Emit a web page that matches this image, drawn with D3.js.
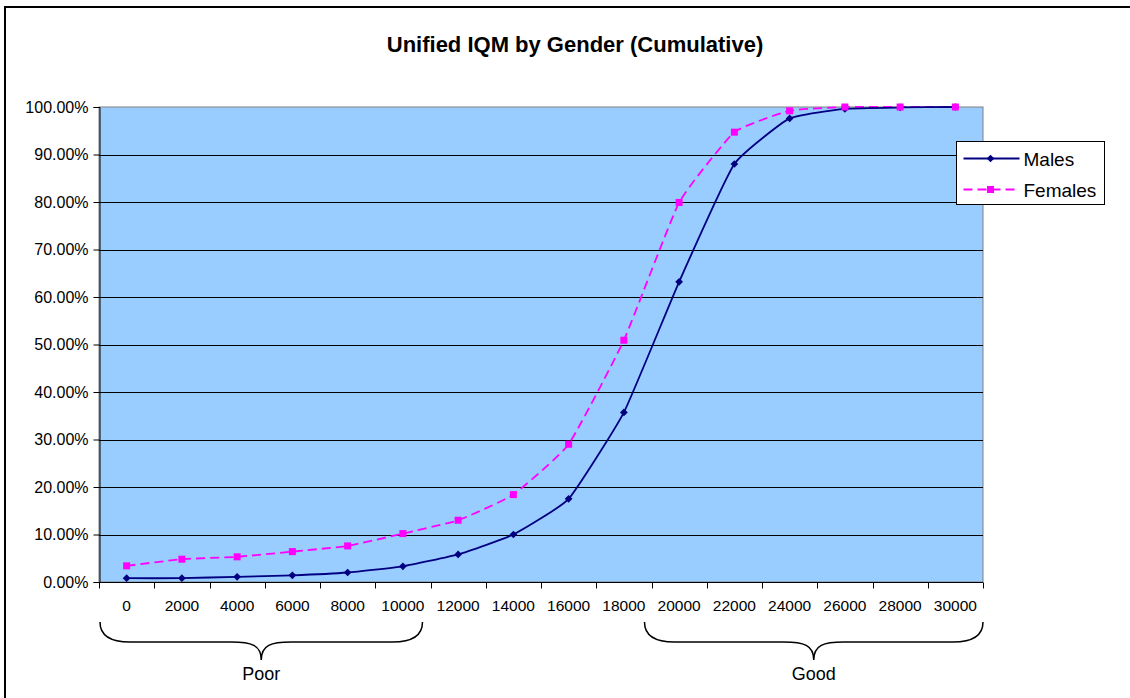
<!DOCTYPE html>
<html lang="en">
<head>
    <meta charset="UTF-8">
    <title>Unified IQM by Gender (Cumulative)</title>
    <script src="https://d3js.org/d3.v7.min.js"></script>
    <style>
        body { margin: 0; background: #fff; }
        svg { display: block; font-family: Arial, "Liberation Sans", sans-serif; }
    </style>
</head>
<body>
    <svg id="chart" width="1130" height="698"></svg>
    <script>
        // data
        const categories = ["0", "2000", "4000", "6000", "8000", "10000", "12000", "14000",
                            "16000", "18000", "20000", "22000", "24000", "26000", "28000", "30000"];
        const males   = [0.8, 0.8, 1.1, 1.4, 2.0, 3.3, 5.8, 10.0, 17.5, 35.7, 63.2, 88.0, 97.6, 99.6, 99.9, 100];
        const females = [3.4, 4.8, 5.3, 6.4, 7.6, 10.2, 13.0, 18.4, 29.0, 50.9, 79.9, 94.7, 99.2, 100, 100, 100];
        const yTicks = [0, 10, 20, 30, 40, 50, 60, 70, 80, 90, 100];
        const brackets = [
            { label: "Poor", from: "0", to: "10000" },
            { label: "Good", from: "20000", to: "30000" }
        ];

        const svg = d3.select("#chart");
        const plotLeft = 99, plotRight = 983, plotTop = 107, plotBottom = 582;

        // outer chart frame (cropped at right and bottom)
        svg.append("path")
            .attr("d", "M5,700 L5,7 L1132,7")
            .attr("fill", "none")
            .attr("stroke", "#000")
            .attr("stroke-width", 2);

        svg.append("text")
            .attr("x", 575).attr("y", 52)
            .attr("text-anchor", "middle")
            .attr("font-size", 22).attr("font-weight", "bold")
            .text("Unified IQM by Gender (Cumulative)");

        const x = d3.scaleBand().domain(categories).range([plotLeft, plotRight]);
        const y = d3.scaleLinear().domain([0, 100]).range([plotBottom, plotTop]);

        svg.append("rect")
            .attr("x", plotLeft).attr("y", plotTop)
            .attr("width", plotRight - plotLeft).attr("height", plotBottom - plotTop)
            .attr("fill", "#99ccff")
            .attr("stroke", "#808080");

        // gridlines
        svg.append("g").selectAll("line")
            .data(yTicks.filter(d => d > 0 && d < 100))
            .join("line")
            .attr("x1", plotLeft).attr("x2", plotRight)
            .attr("y1", d => Math.round(y(d)) + 0.5).attr("y2", d => Math.round(y(d)) + 0.5)
            .attr("stroke", "#000");

        const yAxis = svg.append("g")
            .attr("transform", `translate(${plotLeft + 0.5},0)`)
            .call(d3.axisLeft(y).tickValues(yTicks).tickSize(6).tickPadding(5)
                .tickFormat(d => d.toFixed(2) + "%"));
        yAxis.selectAll("text").attr("font-size", 16).attr("fill", "#000").attr("font-family", "Arial, 'Liberation Sans', sans-serif");
        yAxis.selectAll("line, path").attr("stroke", "#000");

        const xAxis = svg.append("g")
            .attr("transform", `translate(0,${plotBottom + 0.5})`)
            .call(d3.axisBottom(x).tickSize(0).tickPadding(17));
        xAxis.selectAll("text").attr("font-size", 15.5).attr("fill", "#000").attr("font-family", "Arial, 'Liberation Sans', sans-serif");
        xAxis.select("path").attr("stroke", "#000").attr("d", `M${plotLeft},0H${plotRight}`);
        // category boundary ticks
        xAxis.append("g").selectAll("line")
            .data(categories.concat([null]))
            .join("line")
            .attr("x1", (d, i) => Math.round(plotLeft + i * x.step()) + 0.5)
            .attr("x2", (d, i) => Math.round(plotLeft + i * x.step()) + 0.5)
            .attr("y1", 0).attr("y2", 6)
            .attr("stroke", "#000");

        const line = d3.line()
            .x((d, i) => x(categories[i]) + x.bandwidth() / 2)
            .y(d => y(d))
            .curve(d3.curveCardinal.tension(0.6));

        svg.append("path")
            .datum(females)
            .attr("d", line)
            .attr("fill", "none")
            .attr("stroke", "#ff00ff")
            .attr("stroke-width", 1.8)
            .attr("stroke-dasharray", "9,5");

        svg.append("path")
            .datum(males)
            .attr("d", line)
            .attr("fill", "none")
            .attr("stroke", "#000080")
            .attr("stroke-width", 1.8);

        const diamond = d3.symbol().type(d3.symbolSquare).size(30);
        svg.append("g").selectAll("path")
            .data(males)
            .join("path")
            .attr("transform", (d, i) => `translate(${x(categories[i]) + x.bandwidth() / 2},${y(d)}) rotate(45)`)
            .attr("d", diamond)
            .attr("fill", "#000080");

        svg.append("g").selectAll("rect")
            .data(females)
            .join("rect")
            .attr("x", (d, i) => x(categories[i]) + x.bandwidth() / 2 - 3.5)
            .attr("y", d => y(d) - 3.5)
            .attr("width", 7).attr("height", 7)
            .attr("fill", "#ff00ff");

        // legend
        const legend = svg.append("g").attr("transform", "translate(956.5,141.5)");
        legend.append("rect")
            .attr("width", 148).attr("height", 63)
            .attr("fill", "#fff").attr("stroke", "#000");
        const items = [
            { name: "Males", color: "#000080", dash: null, marker: "diamond" },
            { name: "Females", color: "#ff00ff", dash: "9,5", marker: "square" }
        ];
        items.forEach((it, i) => {
            const cy = 17 + i * 31;
            legend.append("line")
                .attr("x1", 7).attr("x2", 63).attr("y1", cy).attr("y2", cy)
                .attr("stroke", it.color).attr("stroke-width", 1.8)
                .attr("stroke-dasharray", it.dash);
            if (it.marker === "diamond") {
                legend.append("path")
                    .attr("transform", `translate(34,${cy}) rotate(45)`)
                    .attr("d", diamond).attr("fill", it.color);
            } else {
                legend.append("rect")
                    .attr("x", 30.5).attr("y", cy - 3.5).attr("width", 7).attr("height", 7)
                    .attr("fill", it.color);
            }
            legend.append("text")
                .attr("x", 67).attr("y", cy + 7)
                .attr("font-size", 19)
                .text(it.name);
        });

        // curly braces under the axis
        const braceTop = 622, braceMid = 642, braceTip = 660;
        brackets.forEach((b, k) => {
            const x0 = x(b.from) + (k === 0 ? 1 : -7), x1 = x(b.to) + x.bandwidth() - (k === 0 ? 8 : 0);
            const xm = (x0 + x1) / 2;
            const r = 30;
            const d = `M${x0},${braceTop}` +
                `C${x0},${braceMid - 4} ${x0 + 14},${braceMid} ${x0 + r},${braceMid}` +
                `L${xm - r},${braceMid}` +
                `C${xm - 10},${braceMid} ${xm},${braceMid + 3} ${xm},${braceTip}` +
                `C${xm},${braceMid + 3} ${xm + 10},${braceMid} ${xm + r},${braceMid}` +
                `L${x1 - r},${braceMid}` +
                `C${x1 - 14},${braceMid} ${x1},${braceMid - 4} ${x1},${braceTop}`;
            svg.append("path").attr("d", d)
                .attr("fill", "none").attr("stroke", "#000").attr("stroke-width", 1.5);
            svg.append("text")
                .attr("x", xm).attr("y", 680)
                .attr("text-anchor", "middle")
                .attr("font-size", 18)
                .text(b.label);
        });
    </script>
</body>
</html>
